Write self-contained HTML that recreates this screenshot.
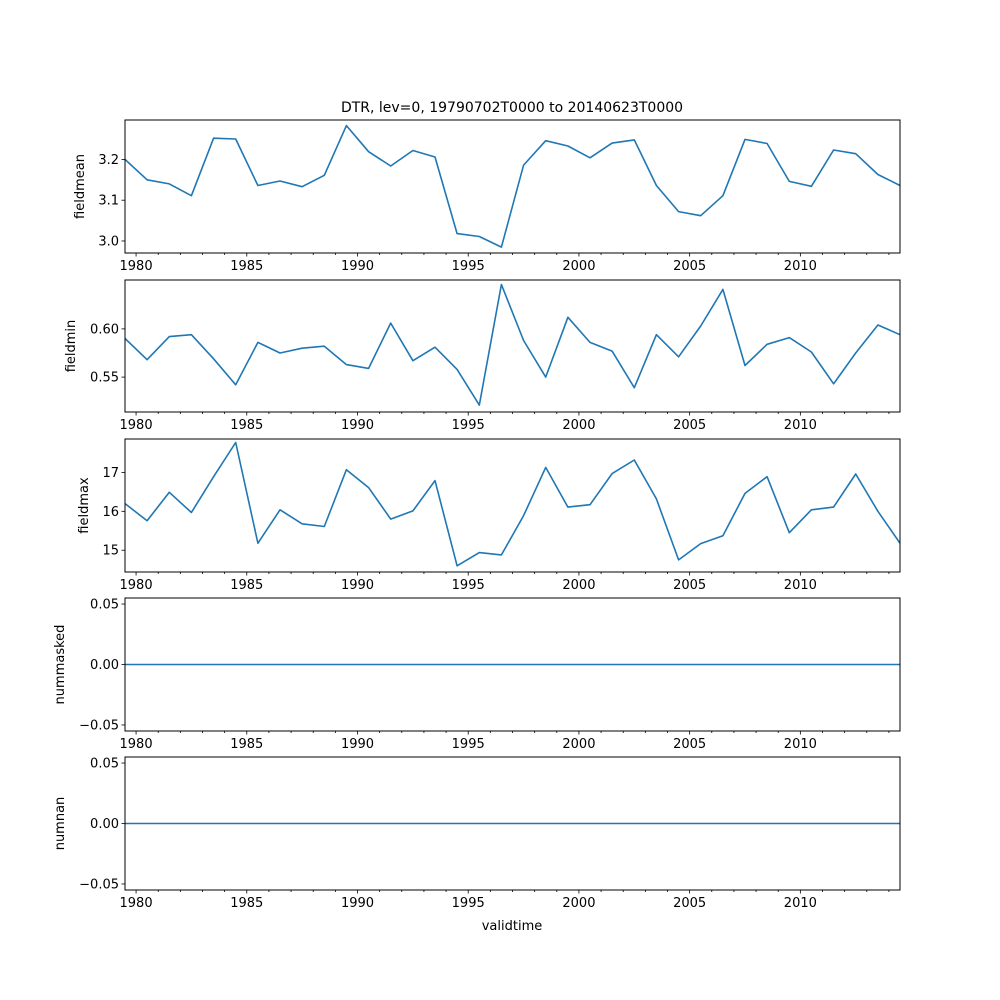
<!DOCTYPE html>
<html><head><meta charset="utf-8"><style>
body{margin:0;background:#fff}
svg{display:block;font-family:"DejaVu Sans","Liberation Sans",sans-serif}
</style></head><body>
<svg id="chart" width="1000" height="1000" viewBox="0 0 1000 1000" xmlns="http://www.w3.org/2000/svg">
<rect width="1000" height="1000" fill="#fff"/>
<text x="512" y="112" font-size="14" text-anchor="middle">DTR, lev=0, 19790702T0000 to 20140623T0000</text>
<text x="512" y="930" font-size="13" text-anchor="middle">validtime</text>
</svg>
<script>
const fieldmean=[3.200,3.150,3.140,3.111,3.252,3.250,3.136,3.147,3.133,3.161,3.283,3.219,3.184,3.222,3.206,3.018,3.011,2.985,3.186,3.246,3.233,3.204,3.240,3.248,3.136,3.072,3.062,3.111,3.249,3.239,3.146,3.134,3.223,3.214,3.163,3.136];
const fieldmin=[0.590,0.568,0.592,0.594,0.569,0.542,0.586,0.575,0.580,0.582,0.563,0.559,0.606,0.567,0.581,0.558,0.521,0.646,0.588,0.550,0.612,0.586,0.577,0.539,0.594,0.571,0.603,0.641,0.562,0.584,0.591,0.576,0.543,0.575,0.604,0.594];
const fieldmax=[16.20,15.76,16.49,15.97,16.89,17.77,15.18,16.04,15.68,15.61,17.07,16.61,15.80,16.01,16.79,14.60,14.94,14.88,15.89,17.13,16.11,16.17,16.97,17.32,16.32,14.75,15.17,15.37,16.46,16.89,15.45,16.04,16.11,16.96,16.00,15.18];
const nummasked=new Array(36).fill(0);
const numnan=new Array(36).fill(0);
const startYear=1979.5;
const xTickYears=[1980,1985,1990,1995,2000,2005,2010];
const xTickLabels=["1980","1985","1990","1995","2000","2005","2010"];
const panels=[
 {name:"fieldmean",data:fieldmean,top:120,bot:253,min:2.9705,max:3.2967,ticks:[3.0,3.1,3.2],labels:["3.0","3.1","3.2"],lx:84},
 {name:"fieldmin",data:fieldmin,top:280,bot:412,min:0.5138,max:0.6507,ticks:[0.55,0.60],labels:["0.55","0.60"],lx:75},
 {name:"fieldmax",data:fieldmax,top:439,bot:572,min:14.44,max:17.86,ticks:[15,16,17],labels:["15","16","17"],lx:88},
 {name:"nummasked",data:nummasked,top:598,bot:731,min:-0.055,max:0.055,ticks:[-0.05,0,0.05],labels:["\u22120.05","0.00","0.05"],lx:64},
 {name:"numnan",data:numnan,top:757,bot:890,min:-0.055,max:0.055,ticks:[-0.05,0,0.05],labels:["\u22120.05","0.00","0.05"],lx:64}
];
const L=125,R=900,NS="http://www.w3.org/2000/svg";
const svg=document.getElementById('chart');
function xs(year){return L+(year-startYear)*(R-L)/35;}
function mk(tag,attrs,parent){const e=document.createElementNS(NS,tag);for(const k in attrs)e.setAttribute(k,attrs[k]);(parent||svg).appendChild(e);return e;}
panels.forEach(p=>{
 const g=mk('g',{});
 
 
 const ys=v=>p.bot-(v-p.min)/(p.max-p.min)*(p.bot-p.top);
 const pts=p.data.map((v,i)=>xs(startYear+i).toFixed(1)+','+ys(v).toFixed(1)).join(' ');
 const line=mk('polyline',{points:pts,fill:'none',stroke:'#1f77b4','stroke-width':1.6,'stroke-linejoin':'round'},g);
 
 
 const fr=mk('rect',{x:L,y:p.top,width:R-L,height:p.bot-p.top,fill:'none',stroke:'#000','stroke-width':1},g);
 
 
 for(let y=1980;y<=2014;y++){
  const major=xTickYears.indexOf(y)>=0;
  mk('line',{x1:xs(y),x2:xs(y),y1:p.bot,y2:p.bot+(major?3.5:2),stroke:'#000','stroke-width':0.8},g);
 }
 xTickYears.forEach((y,i)=>{
  const t=mk('text',{x:xs(y),y:p.bot+17,'font-size':13,'text-anchor':'middle'},g);
  t.textContent=xTickLabels[i];
  
  
 });
 p.ticks.forEach((v,i)=>{
  mk('line',{x1:L-3.5,x2:L,y1:ys(v),y2:ys(v),stroke:'#000','stroke-width':0.8},g);
  const t=mk('text',{x:L-6,y:ys(v)+4.5,'font-size':13,'text-anchor':'end'},g);
  t.textContent=p.labels[i];
  
  
 });
 const cy=(p.top+p.bot)/2;
 const yl=mk('text',{x:p.lx,y:cy,'font-size':13,'text-anchor':'middle',transform:'rotate(-90 '+p.lx+' '+cy+')'},g);
 yl.textContent=p.name;
 
 
});
</script>
</body></html>
